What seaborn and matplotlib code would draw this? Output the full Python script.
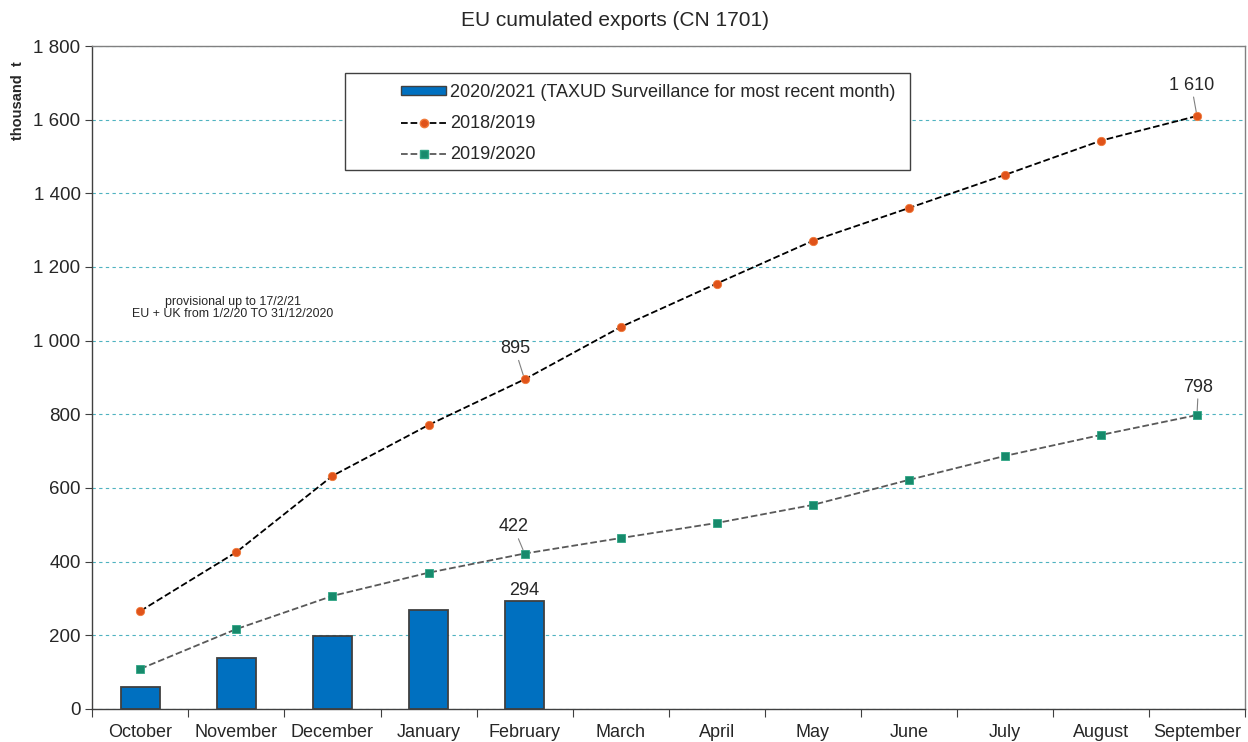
import numpy as np
import pandas as pd
import matplotlib.pyplot as plt
import matplotlib.ticker as mticker
from matplotlib.patches import Patch, Rectangle
from matplotlib.lines import Line2D
import seaborn as sns

# data (thousand t)
months = ['October', 'November', 'December', 'January', 'February', 'March',
          'April', 'May', 'June', 'July', 'August', 'September']
exports_2021 = [60, 139, 198, 269, 294]
exports_1819 = [266, 426, 633, 771, 895, 1037, 1155, 1271, 1360, 1450, 1543, 1610]
exports_1920 = [109, 217, 307, 370, 422, 464, 505, 554, 622, 687, 744, 798]

sns.set_style('ticks')
plt.rcParams['font.family'] = ['Liberation Sans', 'DejaVu Sans']

fig, ax = plt.subplots(figsize=(12.48, 7.42), dpi=100)
fig.subplots_adjust(left=0.074, right=0.9976, top=0.938, bottom=0.0445)

bars_df = pd.DataFrame({'month': months[:5], 'value': exports_2021})
sns.barplot(data=bars_df, x='month', y='value', order=months, color='#0070C0',
            saturation=1, width=0.4, edgecolor='#404040', linewidth=1.3, ax=ax)

xpos = np.arange(len(months))
sns.lineplot(x=xpos, y=exports_1819, ax=ax, color='black', linestyle='--', lw=1.3,
             marker='o', markersize=6, markerfacecolor='#E0531A',
             markeredgecolor='#F07A3A', markeredgewidth=0.6, zorder=4)
sns.lineplot(x=xpos, y=exports_1920, ax=ax, color='#595959', linestyle='--', lw=1.3,
             marker='s', markersize=6, markerfacecolor='#178A6C',
             markeredgecolor='#2FA585', markeredgewidth=0.6, zorder=4)

# axes
ax.set_xlim(-0.5, len(months) - 0.5)
ax.set_ylim(0, 1800)
ax.set_yticks(np.arange(0, 1801, 200))
ax.yaxis.set_major_formatter(mticker.FuncFormatter(lambda v, p: f'{int(v):,}'.replace(',', ' ')))
ax.set_xticks(np.arange(-0.5, len(months), 1))
ax.set_xticklabels([])
ax.set_xticks(xpos, minor=True)
ax.set_xticklabels(months, minor=True)
ax.tick_params(axis='x', which='minor', length=0, labelsize=13, pad=11)
ax.tick_params(axis='x', which='major', length=6, color='#404040')
ax.tick_params(axis='y', length=5, color='#404040', labelsize=13.5)
for s in ax.spines.values():
    s.set_color('#808080')
    s.set_linewidth(1)
ax.spines['left'].set_color('#404040')
ax.spines['bottom'].set_color('#404040')
ax.yaxis.grid(True, color='#4FB3C0', linestyle=(0, (3, 3)), linewidth=0.8)
ax.set_axisbelow(True)
ax.set_xlabel('')
ax.set_ylabel('thousand  t', fontsize=10.5, fontweight='bold')
ax.yaxis.set_label_coords(-0.058, 0.917)

fig.suptitle('EU cumulated exports (CN 1701)', fontsize=15, x=0.493, y=0.973, va='center')

# labels
lead = dict(arrowstyle='-', color='#808080', lw=0.8, shrinkA=0, shrinkB=3)
ax.annotate('1 610', (11, exports_1819[11]), xytext=(-4, 16), textcoords='offset points',
            ha='center', va='bottom', fontsize=13, arrowprops=lead)
ax.annotate('895', (4, exports_1819[4]), xytext=(-7, 16), textcoords='offset points',
            ha='center', va='bottom', fontsize=13, arrowprops=lead)
ax.annotate('798', (11, exports_1920[11]), xytext=(1, 14), textcoords='offset points',
            ha='center', va='bottom', fontsize=13, arrowprops=lead)
ax.annotate('422', (4, exports_1920[4]), xytext=(-8, 13), textcoords='offset points',
            ha='center', va='bottom', fontsize=13, arrowprops=lead)
ax.annotate('294', (4, exports_2021[4]), xytext=(0, 1), textcoords='offset points',
            ha='center', va='bottom', fontsize=13)

ax.text(0.122, 0.605, 'provisional up to 17/2/21\nEU + UK from 1/2/20 TO 31/12/2020',
        transform=ax.transAxes, ha='center', va='center', fontsize=8.9, linespacing=1.05)

# legend: frameless legend inside a drawn box
ax.add_patch(Rectangle((0.219, 0.813), 0.490, 0.146, transform=ax.transAxes,
                       facecolor='white', edgecolor='#404040', lw=1, zorder=5))
handles = [
    Patch(facecolor='#0070C0', edgecolor='#404040', linewidth=1),
    Line2D([], [], color='black', linestyle='--', marker='o', markersize=6,
           markerfacecolor='#E0531A', markeredgecolor='#F07A3A', lw=1.3),
    Line2D([], [], color='#595959', linestyle='--', marker='s', markersize=6,
           markerfacecolor='#178A6C', markeredgecolor='#2FA585', lw=1.3),
]
labels = ['2020/2021 (TAXUD Surveillance for most recent month)', '2018/2019', '2019/2020']
leg = ax.legend(handles, labels, loc='center left', bbox_to_anchor=(0.268, 0.883),
                fontsize=13, frameon=False, handlelength=2.5, handleheight=0.4,
                handletextpad=0.2, labelspacing=0.78, borderpad=0, borderaxespad=0)
leg.set_zorder(6)

fig.savefig('out.png', dpi=100)
